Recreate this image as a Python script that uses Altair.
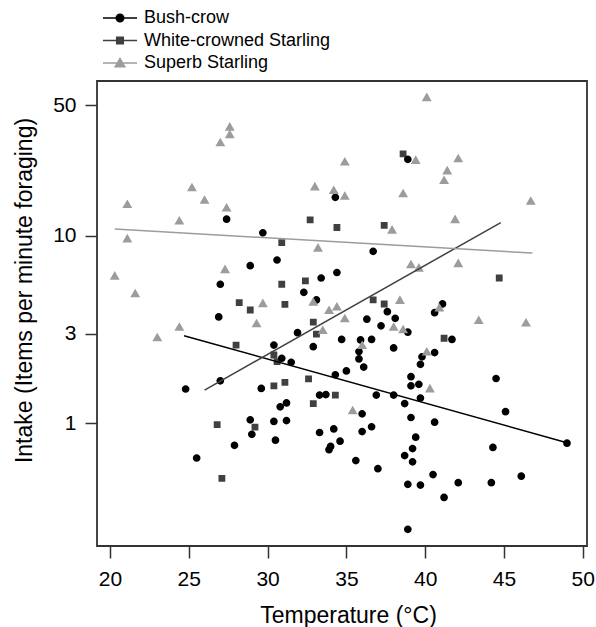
import altair as alt
import pandas as pd

species = ["Bush-crow", "White-crowned Starling", "Superb Starling"]
species_colors = ["#000000", "#404040", "#9c9c9c"]

x_ticks = [20, 25, 30, 35, 40, 45, 50]
y_ticks = [1, 3, 10, 50]

bush_temp = [
    27.4, 29.7, 28.9, 30.6, 34.3, 33.4, 34.4, 27.0, 26.9, 32.3,
    33.1, 31.9, 30.4, 30.9, 31.5, 32.9, 34.7, 34.3, 27.0, 24.8,
    29.6, 33.3, 33.7, 30.8, 31.2, 28.9, 30.4, 31.2, 29.0, 30.5,
    33.3, 34.2, 34.6, 34.0, 33.9, 27.9, 25.5, 38.9, 36.7, 41.1,
    40.6, 37.6, 38.1, 36.3, 37.2, 38.9, 35.9, 36.6, 38.0, 41.7,
    40.6, 39.8, 35.8, 35.8, 39.7, 36.1, 35.0, 39.1, 39.1, 39.6,
    44.5, 36.9, 38.0, 38.7, 39.7, 36.0, 39.1, 45.1, 40.6, 36.0,
    36.6, 39.4, 39.2, 38.7, 44.3, 49.0, 35.6, 37.0, 39.2, 38.9,
    39.7, 40.5, 41.2, 42.1, 44.2, 46.1, 38.9,
]
bush_intake = [
    12.3, 10.4, 6.94, 7.44, 16.1, 5.96, 6.38, 5.52, 3.69, 5.00,
    4.55, 3.04, 2.61, 2.22, 2.11, 2.56, 2.80, 1.81, 1.68, 1.52,
    1.53, 1.41, 1.42, 1.22, 1.28, 1.04, 1.02, 1.03, 0.87, 0.81,
    0.89, 0.93, 0.80, 0.75, 0.72, 0.76, 0.65, 25.7, 8.28, 4.33,
    3.89, 3.94, 3.63, 3.59, 3.31, 3.06, 2.78, 2.80, 2.52, 2.80,
    2.38, 2.26, 2.41, 2.20, 2.06, 1.99, 1.90, 1.77, 1.58, 1.61,
    1.73, 1.41, 1.41, 1.27, 1.36, 1.12, 1.07, 1.15, 1.01, 0.90,
    0.955, 0.84, 0.73, 0.67, 0.74, 0.78, 0.63, 0.57, 0.62, 0.47,
    0.466, 0.53, 0.40, 0.48, 0.48, 0.52, 0.27,
]

wcs_temp = [
    30.9, 32.7, 34.4, 32.4, 30.9, 28.2, 28.9, 31.1, 32.9, 33.1,
    28.0, 30.4, 30.6, 30.4, 31.1, 32.6, 34.3, 32.9, 26.8, 29.2,
    27.1, 38.6, 37.4, 44.7, 36.7, 37.4, 41.2,
]
wcs_intake = [
    9.21, 12.2, 11.1, 5.75, 5.52, 4.40, 4.02, 4.31, 3.46, 2.99,
    2.61, 2.31, 2.13, 1.58, 1.65, 1.72, 1.41, 1.27, 0.98, 0.95,
    0.506, 27.5, 11.4, 5.96, 4.55, 4.33, 2.84,
]

ss_temp = [
    27.6, 27.6, 27.0, 25.2, 33.0, 34.2, 21.1, 26.0, 27.4, 24.4,
    21.1, 33.2, 20.3, 27.3, 21.6, 23.0, 24.4, 29.7, 29.3, 32.9,
    33.9, 34.4, 33.5, 40.1, 34.9, 39.4, 42.1, 41.4, 41.2, 34.9,
    38.6, 46.7, 41.9, 37.9, 39.1, 39.6, 42.1, 38.4, 34.9, 40.9,
    43.4, 46.4, 38.0, 38.6, 36.0, 40.1, 40.3, 35.4,
]
ss_intake = [
    38.4, 35.0, 31.7, 18.2, 18.4, 17.6, 14.8, 15.6, 14.2, 12.1,
    9.7, 8.66, 6.13, 6.64, 4.94, 2.87, 3.27, 4.37, 3.41, 4.45,
    4.02, 4.19, 3.14, 55.2, 25.0, 25.5, 26.0, 22.4, 19.9, 16.4,
    16.9, 15.4, 12.3, 10.8, 7.06, 6.77, 7.15, 4.55, 3.63, 4.14,
    3.55, 3.44, 3.27, 3.17, 2.61, 2.41, 1.53, 1.17,
]

# fitted regression lines (end points)
fit_bush_temp = [24.7, 49.0]
fit_bush_intake = [2.93, 0.785]
fit_wcs_temp = [26.0, 44.8]
fit_wcs_intake = [1.50, 11.8]
fit_ss_temp = [20.3, 46.8]
fit_ss_intake = [10.9, 8.1]

rows = []
for sp, temps, vals in [(species[1], wcs_temp, wcs_intake),
                        (species[0], bush_temp, bush_intake),
                        (species[2], ss_temp, ss_intake)]:
    for t, v in zip(temps, vals):
        rows.append({"species": sp, "temp": t, "intake": v})
points = pd.DataFrame(rows)

lrows = []
for sp, temps, vals in [(species[0], fit_bush_temp, fit_bush_intake),
                        (species[1], fit_wcs_temp, fit_wcs_intake),
                        (species[2], fit_ss_temp, fit_ss_intake)]:
    for t, v in zip(temps, vals):
        lrows.append({"species": sp, "temp": t, "intake": v})
lines = pd.DataFrame(lrows)

FONT = "Liberation Sans"
xscale = alt.Scale(domain=[19.175, 50.27], nice=False, zero=False)
yscale = alt.Scale(type="log", domain=[0.22, 67.4], nice=False)
cscale = alt.Scale(domain=species, range=species_colors)

# marker + legend line in one symbol path (the line part is only visible when stroked: legend)
circ = "M-1.55,0H1.55M-0.35,0A0.35,0.35,0,1,0,0.35,0A0.35,0.35,0,1,0,-0.35,0Z"
sq = "M-1.55,0H1.55M-0.31,-0.31H0.31V0.31H-0.31Z"
tri = "M-1.55,0H1.55M0,-0.42L0.45,0.36H-0.45Z"
sscale = alt.Scale(domain=species, range=[circ, sq, tri])

def make_legend():
    return alt.Legend(
        title=None, orient="none", legendX=11, legendY=-75, direction="vertical",
        symbolSize=484, symbolStrokeWidth=1.3, symbolOpacity=1,
        labelFontSize=18, labelFont=FONT, labelColor="#000000", labelLimit=400,
        labelOffset=12, rowPadding=1.5, padding=0, symbolOffset=0,
    )

x_axis = alt.Axis(values=x_ticks, title="Temperature (°C)", domain=False, grid=False,
                  tickSize=12, tickWidth=1.5, tickColor="#333333",
                  labelFontSize=21, labelFont=FONT, labelColor="#000000", labelPadding=10,
                  labelFlush=False, labelOverlap=False,
                  titleFontSize=23, titleFont=FONT, titleFontWeight="normal", titleColor="#000000",
                  titleX=251, titleY=76, titleBaseline="alphabetic")
y_axis = alt.Axis(values=y_ticks, format="~g", title="Intake (Items per minute foraging)",
                  domain=False, grid=False,
                  tickSize=12, tickWidth=1.5, tickColor="#333333",
                  labelFontSize=21, labelFont=FONT, labelColor="#000000", labelPadding=9,
                  labelFlush=False, labelOverlap=False,
                  titleFontSize=23, titleFont=FONT, titleFontWeight="normal", titleColor="#000000",
                  titleAngle=270, titleX=-73, titleY=209, titleBaseline="middle")

pts = alt.Chart(points).mark_point(filled=True, opacity=1, size=484).encode(
    x=alt.X("temp:Q", scale=xscale, axis=x_axis),
    y=alt.Y("intake:Q", scale=yscale, axis=y_axis),
    color=alt.Color("species:N", scale=cscale, legend=make_legend()),
    stroke=alt.Stroke("species:N", scale=cscale, legend=make_legend()),
    shape=alt.Shape("species:N", scale=sscale, legend=make_legend()),
    strokeWidth=alt.value(0),
)

lns = alt.Chart(lines).mark_line(strokeWidth=1.5, opacity=1).encode(
    x=alt.X("temp:Q", scale=xscale),
    y=alt.Y("intake:Q", scale=yscale),
    color=alt.Color("species:N", scale=cscale, legend=None),
    detail="species:N",
)

chart = alt.layer(pts, lns).properties(
    width=490, height=465,
    autosize=alt.AutoSizeParams(type="none"),
    padding={"left": 97, "top": 81, "right": 9, "bottom": 81},
    background="white",
).configure_view(stroke="#333333", strokeWidth=1.8)

chart.save("out.html", embed_options={"renderer": "svg", "actions": False})
